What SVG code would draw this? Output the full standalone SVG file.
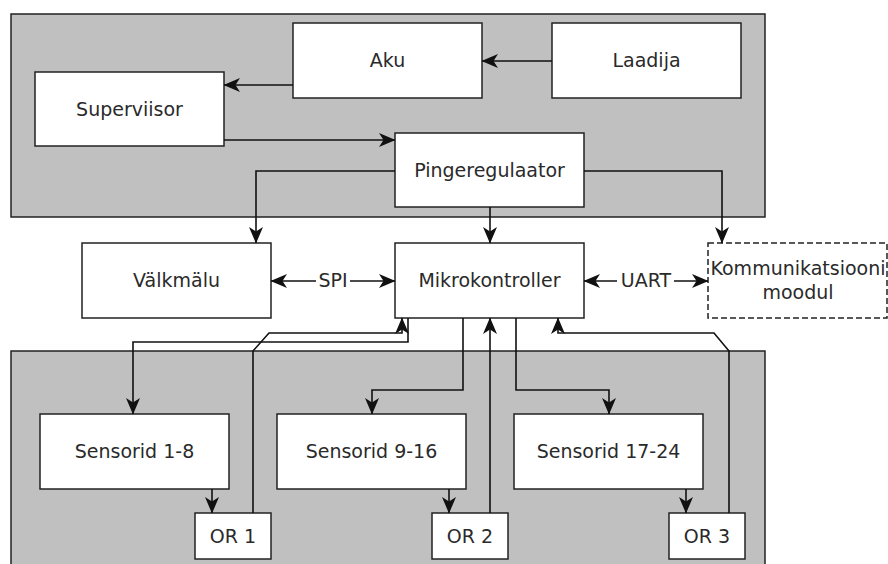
<svg xmlns="http://www.w3.org/2000/svg" width="888" height="564" viewBox="0 0 888 564">
<style>
.panel{fill:#c0c0c0;stroke:#222;stroke-width:1.5}
.box{fill:#fff;stroke:#222;stroke-width:1.5}
.dash{fill:#fff;stroke:#222;stroke-width:1.5;stroke-dasharray:6 3}
text{font-family:"DejaVu Sans",sans-serif;font-size:19px;fill:#2a2a2a;text-anchor:middle}
.c{fill:none;stroke:#111;stroke-width:1.6;marker-end:url(#ah)}
</style>
<defs>
<marker id="ah" refX="16" refY="7" markerWidth="17" markerHeight="14" markerUnits="userSpaceOnUse" orient="auto" overflow="visible">
<path d="M0,0 L16.5,7 L0,14 L4.5,7 z" fill="#111"/>
</marker>
</defs>
<rect class="panel" x="11" y="14" width="754" height="203"/>
<rect class="panel" x="11" y="351" width="754" height="230"/>
<g id="aku"><rect class="box" x="293" y="23" width="189" height="75"/><text x="387.5" y="67">Aku</text></g>
<g id="laadija"><rect class="box" x="552" y="23" width="189" height="75"/><text x="646.5" y="67">Laadija</text></g>
<g id="superviisor"><rect class="box" x="35" y="72" width="189" height="74"/><text x="129.5" y="115.5">Superviisor</text></g>
<g id="pingeregulaator"><rect class="box" x="395" y="133" width="189" height="74"/><text x="489.5" y="176.5">Pingeregulaator</text></g>
<g id="valkmalu"><rect class="box" x="82" y="243" width="189" height="75"/><text x="176.5" y="287">Välkmälu</text></g>
<g id="mikrokontroller"><rect class="box" x="395" y="243" width="189" height="75"/><text x="489.5" y="287">Mikrokontroller</text></g>
<g id="kommunikatsioon"><rect class="dash" x="708" y="243" width="179" height="75"/><text x="798" y="275">Kommunikatsiooni</text><text x="798" y="299">moodul</text></g>
<g id="sensorid1"><rect class="box" x="40" y="414" width="189" height="75"/><text x="134.5" y="458">Sensorid 1-8</text></g>
<g id="sensorid2"><rect class="box" x="277" y="414" width="189" height="75"/><text x="371.5" y="458">Sensorid 9-16</text></g>
<g id="sensorid3"><rect class="box" x="514" y="414" width="189" height="75"/><text x="608.5" y="458">Sensorid 17-24</text></g>
<g id="or1"><rect class="box" x="195" y="513" width="76" height="46"/><text x="233" y="542.5">OR 1</text></g>
<g id="or2"><rect class="box" x="432" y="513" width="76" height="46"/><text x="470" y="542.5">OR 2</text></g>
<g id="or3"><rect class="box" x="669" y="513" width="76" height="46"/><text x="707" y="542.5">OR 3</text></g>
<g id="connectors">
<path class="c" d="M552,61 L482,61"/>
<path class="c" d="M293,85 L224,85"/>
<path class="c" d="M224,140 L395,140"/>
<path class="c" d="M395,171 L256,171 L256,243"/>
<path class="c" d="M490,207 L490,243"/>
<path class="c" d="M584,171 L722,171 L722,243"/>
<path class="c" d="M316,281 L271,281"/>
<path class="c" d="M350,281 L395,281"/>
<text x="333" y="287">SPI</text>
<path class="c" d="M617,281 L584,281"/>
<path class="c" d="M674,281 L708,281"/>
<text x="646" y="287">UART</text>
<path class="c" d="M408,318 L408,342 L133,342 L133,414"/>
<path class="c" d="M253,513 L253,351 L269,333 L402,333 L402,318"/>
<path class="c" d="M463,318 L463,390 L372,390 L372,414"/>
<path class="c" d="M490,513 L490,318"/>
<path class="c" d="M516,318 L516,390 L609,390 L609,414"/>
<path class="c" d="M729,513 L729,351 L714,333 L558,333 L558,318"/>
<path class="c" d="M212,489 L212,513"/>
<path class="c" d="M449,489 L449,513"/>
<path class="c" d="M686,489 L686,513"/>
</g>
</svg>
